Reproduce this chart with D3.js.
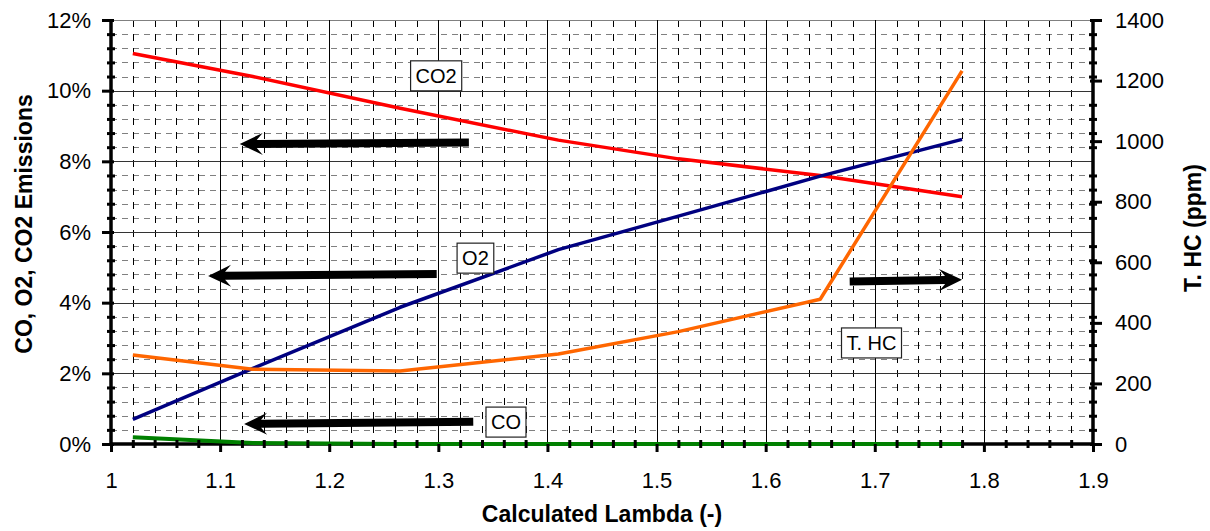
<!DOCTYPE html>
<html>
<head>
<meta charset="utf-8">
<script src="https://cdn.jsdelivr.net/npm/d3@7"></script>
<style>
  body { margin: 0; background: #fff; }
  svg { display: block; font-family: "Liberation Sans", Arial, sans-serif; }
</style>
</head>
<body>
<div id="chart"></div>
<script>
// data
const lambda = [1.02, 1.13, 1.265, 1.41, 1.52, 1.65, 1.78];
const co2 = [11.05, 10.4, 9.5, 8.6, 8.07, 7.6, 7.0];
const o2 = [0.70, 2.14, 3.87, 5.5, 6.45, 7.58, 8.62];
const co = [0.19, 0.03, 0.0, 0.0, 0.0, 0.0, 0.0];
const thc = [294, 247, 241, 297, 371, 478, 1232];

const xTicks = [1, 1.1, 1.2, 1.3, 1.4, 1.5, 1.6, 1.7, 1.8, 1.9];
const yLeftTicks = [0, 2, 4, 6, 8, 10, 12];
const yRightTicks = [0, 200, 400, 600, 800, 1000, 1200, 1400];

// text boxes and arrows (in data units)
const labels = [
  { text: "CO2", x: 1.298, y: 10.42 },
  { text: "O2", x: 1.334, y: 5.26 },
  { text: "CO", x: 1.362, y: 0.62 },
  { text: "T. HC", x: 1.697, y: 2.86 }
];
const arrows = [
  { x1: 1.328, y1: 8.53, x2: 1.118, y2: 8.49 },
  { x1: 1.2985, y1: 4.81, x2: 1.089, y2: 4.755 },
  { x1: 1.332, y1: 0.63, x2: 1.122, y2: 0.566 },
  { x1: 1.677, y1: 4.6, x2: 1.780, y2: 4.65 }
];

(function () {
  const W = 1210, H = 531;
  const pL = 111, pR = 1093, pT = 20, pB = 444;

  const x = d3.scaleLinear().domain([1, 1.9]).range([pL, pR]);
  const yL = d3.scaleLinear().domain([0, 12]).range([pB, pT]);
  const yR = d3.scaleLinear().domain([0, 1400]).range([pB, pT]);

  const svg = d3.select("#chart").append("svg")
    .attr("width", W).attr("height", H);

  // minor positions
  const xMinor = d3.range(0, 46).filter(i => i % 5 !== 0).map(i => 1 + i * 0.02);
  const yMinor = d3.range(0, 31).filter(i => i % 5 !== 0).map(i => i * 0.4);
  const px = v => Math.round(v) + 0.5;

  const grid = svg.append("g").attr("shape-rendering", "crispEdges");

  grid.selectAll(".hminor").data(yMinor).enter().append("line")
    .attr("x1", pL).attr("x2", pR)
    .attr("y1", d => px(yL(d))).attr("y2", d => px(yL(d)))
    .attr("stroke", "#808080").attr("stroke-dasharray", "6,5");

  grid.selectAll(".vminor").data(xMinor).enter().append("line")
    .attr("x1", d => px(x(d))).attr("x2", d => px(x(d)))
    .attr("y1", pT).attr("y2", pB)
    .attr("stroke", "#000").attr("stroke-dasharray", "7,7");

  grid.selectAll(".hmajor").data(yLeftTicks.slice(1)).enter().append("line")
    .attr("x1", pL).attr("x2", pR)
    .attr("y1", d => px(yL(d))).attr("y2", d => px(yL(d)))
    .attr("stroke", d => d === 12 ? "#808080" : "#333");

  grid.selectAll(".vmajor").data(xTicks.slice(1, -1)).enter().append("line")
    .attr("x1", d => px(x(d))).attr("x2", d => px(x(d)))
    .attr("y1", pT).attr("y2", pB)
    .attr("stroke", "#000");

  // axis lines
  svg.append("line").attr("x1", pL).attr("x2", pL).attr("y1", pT - 1).attr("y2", pB + 1)
    .attr("stroke", "#000").attr("stroke-width", 3.5);
  svg.append("line").attr("x1", pR).attr("x2", pR).attr("y1", pT - 1).attr("y2", pB + 1)
    .attr("stroke", "#000").attr("stroke-width", 3.5);
  svg.append("line").attr("x1", pL).attr("x2", pR).attr("y1", pB).attr("y2", pB)
    .attr("stroke", "#000").attr("stroke-width", 3.5);

  // series
  const series = [
    { values: co2, color: "#ff0000", scale: yL, width: 3.5 },
    { values: o2, color: "#000080", scale: yL, width: 3.5 },
    { values: thc, color: "#ff6600", scale: yR, width: 3.5 },
    { values: co, color: "#008000", scale: yL, width: 4 }
  ];
  series.forEach(s => {
    const line = d3.line().x((d, i) => x(lambda[i])).y(d => s.scale(d));
    svg.append("path").datum(s.values)
      .attr("d", line)
      .attr("fill", "none")
      .attr("stroke", s.color)
      .attr("stroke-width", s.width)
      .attr("stroke-linejoin", "round");
  });

  // axes with ticks
  const fmtX = d3.format("~g");

  const gL = svg.append("g").attr("transform", `translate(${pL},0)`)
    .call(d3.axisLeft(yL).tickValues(yLeftTicks).tickSize(9).tickPadding(11).tickFormat(d => d + "%"));
  const gLm = svg.append("g").attr("transform", `translate(${pL},0)`)
    .call(d3.axisLeft(yL).tickValues(yMinor).tickSize(4).tickFormat(""));

  const gR = svg.append("g").attr("transform", `translate(${pR},0)`)
    .call(d3.axisRight(yR).tickValues(yRightTicks).tickSize(9).tickPadding(13).tickFormat(d3.format("d")));
  const gRm = svg.append("g").attr("transform", `translate(${pR},0)`)
    .call(d3.axisRight(yR).tickValues(yMinor.map(v => v / 12 * 1400)).tickSize(4).tickFormat(""));

  const gB = svg.append("g").attr("transform", `translate(0,${pB})`)
    .call(d3.axisBottom(x).tickValues(xTicks).tickSize(8).tickPadding(20).tickFormat(fmtX));
  const gBm = svg.append("g").attr("transform", `translate(0,${pB})`)
    .call(d3.axisBottom(x).tickValues(xMinor).tickSize(4).tickFormat(""));

  [gL, gLm, gR, gRm, gB, gBm].forEach(g => {
    g.select(".domain").remove();
    g.selectAll(".tick line").attr("stroke", "#000").attr("stroke-width", 3);
    g.selectAll(".tick text").attr("fill", "#000")
      .style("font-size", "22px").style("font-family", "'Liberation Sans', Arial, sans-serif");
  });
  gLm.selectAll(".tick line").attr("x1", 4);
  gL.selectAll(".tick line").attr("x1", 3);
  gRm.selectAll(".tick line").attr("x1", -4);
  gR.selectAll(".tick line").attr("x1", -3);
  gBm.selectAll(".tick line").attr("y1", -4);

  // axis titles
  svg.append("text")
    .attr("transform", "translate(32,224) rotate(-90)")
    .attr("text-anchor", "middle")
    .style("font-size", "23px").style("font-weight", "bold")
    .text("CO, O2, CO2 Emissions");

  svg.append("text")
    .attr("transform", "translate(1201,228) rotate(-90)")
    .attr("text-anchor", "middle")
    .style("font-size", "23px").style("font-weight", "bold")
    .text("T. HC (ppm)");

  svg.append("text")
    .attr("x", 602).attr("y", 522)
    .attr("text-anchor", "middle")
    .style("font-size", "23px").style("font-weight", "bold")
    .text("Calculated Lambda (-)");

  // arrows
  arrows.forEach(a => {
    const x1 = x(a.x1), y1 = yL(a.y1), x2 = x(a.x2), y2 = yL(a.y2);
    const len = Math.hypot(x2 - x1, y2 - y1);
    const ang = Math.atan2(y2 - y1, x2 - x1) * 180 / Math.PI;
    const pts = [[0, 0], [-23, -11], [-17, -4], [-len, -4], [-len, 4], [-17, 4], [-23, 11]];
    svg.append("polygon")
      .attr("points", pts.map(p => p.join(",")).join(" "))
      .attr("transform", `translate(${x2},${y2}) rotate(${ang})`)
      .attr("fill", "#000");
  });

  // text boxes
  labels.forEach(l => {
    const g = svg.append("g").attr("transform", `translate(${x(l.x)},${yL(l.y)})`);
    const rect = g.append("rect").attr("fill", "#fff").attr("stroke", "#222").attr("stroke-width", 1.2);
    const t = g.append("text").attr("text-anchor", "middle").attr("dy", "0.36em")
      .style("font-size", "20px").text(l.text);
    const bb = t.node().getBBox();
    rect.attr("x", bb.x - 5).attr("y", -15).attr("width", bb.width + 10).attr("height", 30);
  });
})();
</script>
</body>
</html>
